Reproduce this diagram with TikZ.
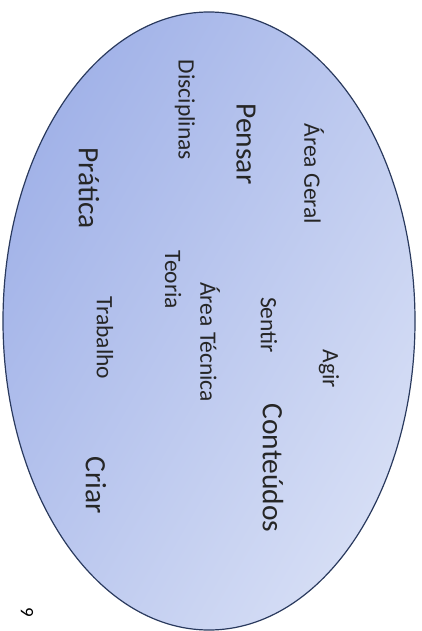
\documentclass[tikz,border=0pt]{standalone}
\usepackage{fontspec}
\setmainfont{Carlito}
\definecolor{fillA}{HTML}{A1B2E8}
\definecolor{fillB}{HTML}{D6DEF5}
\definecolor{edge}{HTML}{2A3A5E}
\tikzset{
  small/.style={rotate=-90, inner sep=0pt, font=\fontsize{23.5}{26}\selectfont, text=black!85},
  big/.style={rotate=-90, inner sep=0pt, font=\fontsize{29.5}{32}\selectfont, text=black!85}
}
\begin{document}
\begin{tikzpicture}[x=1pt,y=-1pt]
\useasboundingbox (0,0) rectangle (422,631);
\begin{scope}
\clip (0,0) rectangle (422,631);
\shade[left color=fillA, right color=fillB, shading angle=60] (209,321) ellipse [x radius=206, y radius=309];
\draw[edge, line width=1.2pt] (209,321) ellipse [x radius=206, y radius=309];
\end{scope}
\node[small] (areageral) at (314,174) {Área Geral};
\node[big] (pensar) at (246,144) {Pensar};
\node[small] (disciplinas) at (185,110) {Disciplinas};
\node[big] (pratica) at (89,188) {Prática};
\node[small] (teoria) at (173,280) {Teoria};
\node[small] (areatecnica) at (210,342) {Área Técnica};
\node[small] (sentir) at (269,325) {Sentir};
\node[small] (trabalho) at (105,338) {Trabalho};
\node[small] (agir) at (329,369) {Agir};
\node[big] (conteudos) at (273,468) {Conteúdos};
\node[big] (criar) at (96,485) {Criar};
\node[rotate=-90, inner sep=0pt, font=\fontsize{19}{21}\selectfont] (nine) at (27,612) {9};
\end{tikzpicture}
\end{document}
